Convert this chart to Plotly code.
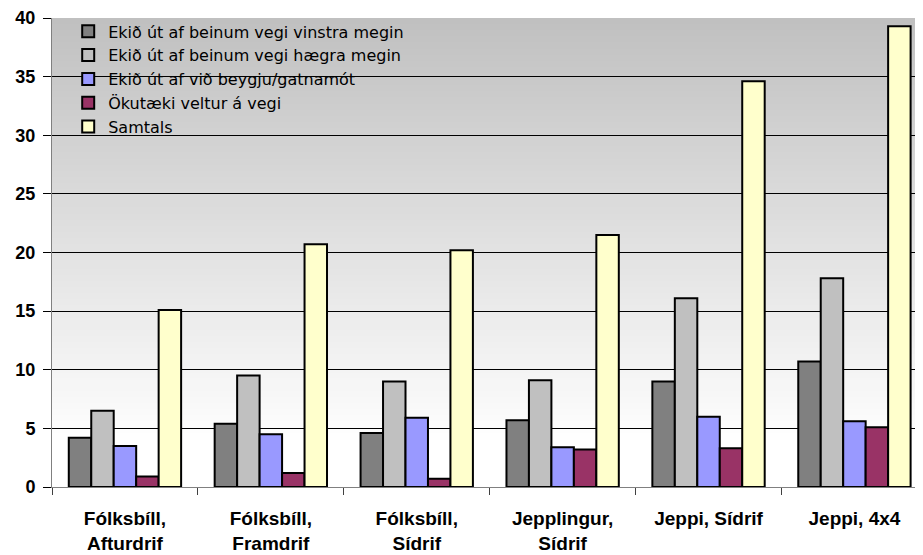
import plotly.graph_objects as go

categories = ["Fólksbíll,<br>Afturdrif", "Fólksbíll,<br>Framdrif", "Fólksbíll,<br>Sídrif",
              "Jepplingur,<br>Sídrif", "Jeppi, Sídrif", "Jeppi, 4x4"]
series_names = ["Ekið út af beinum vegi vinstra megin", "Ekið út af beinum vegi hægra megin",
                "Ekið út af við beygju/gatnamót", "Ökutæki veltur á vegi", "Samtals"]
vinstra = [4.2, 5.4, 4.6, 5.7, 9.0, 10.7]
haegra = [6.5, 9.5, 9.0, 9.1, 16.1, 17.8]
beygju = [3.5, 4.5, 5.9, 3.4, 6.0, 5.6]
veltur = [0.9, 1.2, 0.7, 3.2, 3.3, 5.1]
samtals = [15.1, 20.7, 20.2, 21.5, 34.6, 39.3]
y_ticks = [0, 5, 10, 15, 20, 25, 30, 35, 40]

colors = ["#808080", "#c0c0c0", "#9999ff", "#993366", "#ffffcc"]
values = [vinstra, haegra, beygju, veltur, samtals]

fig = go.Figure()
for name, vals, col in zip(series_names, values, colors):
    fig.add_trace(go.Bar(x=categories, y=vals, name=name,
                         marker=dict(color=col, line=dict(color="black", width=2))))

# vertical gradient background (grey top -> white)
shapes = []
n = 70
y0p, y1p = 0.088, 1.0
for i in range(n):
    a = y0p + (y1p - y0p) * i / n
    b = y0p + (y1p - y0p) * (i + 1) / n + 0.002
    t = (i + 0.5) / n
    c = int(round(255 - (255 - 192) * t))
    shapes.append(dict(type="rect", xref="paper", yref="paper", x0=0, x1=1, y0=a, y1=min(b, 1.0),
                       fillcolor=f"rgb({c},{c},{c})", line=dict(width=0), layer="below"))

fig.update_layout(
    width=915, height=547,
    margin=dict(l=44, r=0, t=10, b=68, autoexpand=False),
    paper_bgcolor="white", plot_bgcolor="white",
    barmode="group", bargap=0.23, bargroupgap=0,
    font=dict(family="Liberation Sans, Arial, sans-serif", color="black"),
    shapes=shapes,
    showlegend=True,
    legend=dict(x=0.0186, y=1.0077, xanchor="left", yanchor="top",
                bgcolor="rgba(0,0,0,0)",
                font=dict(size=16, family="DejaVu Sans, Liberation Sans, sans-serif", color="black"),
                traceorder="normal", itemwidth=30, tracegroupgap=0),
)
fig.update_xaxes(range=[-0.5, 5.47], showline=True, linecolor="#808080", linewidth=1,
                 ticks="outside", tickson="boundaries", ticklen=7, tickcolor="#404040",
                 tickfont=dict(size=19, family="Liberation Sans, Arial, sans-serif", weight="bold"),
                 showgrid=False, zeroline=False, automargin=False, ticklabelstandoff=14)
fig.update_yaxes(range=[0, 40], tickvals=y_ticks, showline=True, linecolor="#808080", linewidth=1,
                 ticks="outside", ticklen=8, tickcolor="black",
                 showgrid=True, gridcolor="black", gridwidth=1, zeroline=False,
                 tickfont=dict(size=18, family="Liberation Sans, Arial, sans-serif", weight="bold"),
                 ticklabelstandoff=4, automargin=False)

fig.write_html("out.html")
